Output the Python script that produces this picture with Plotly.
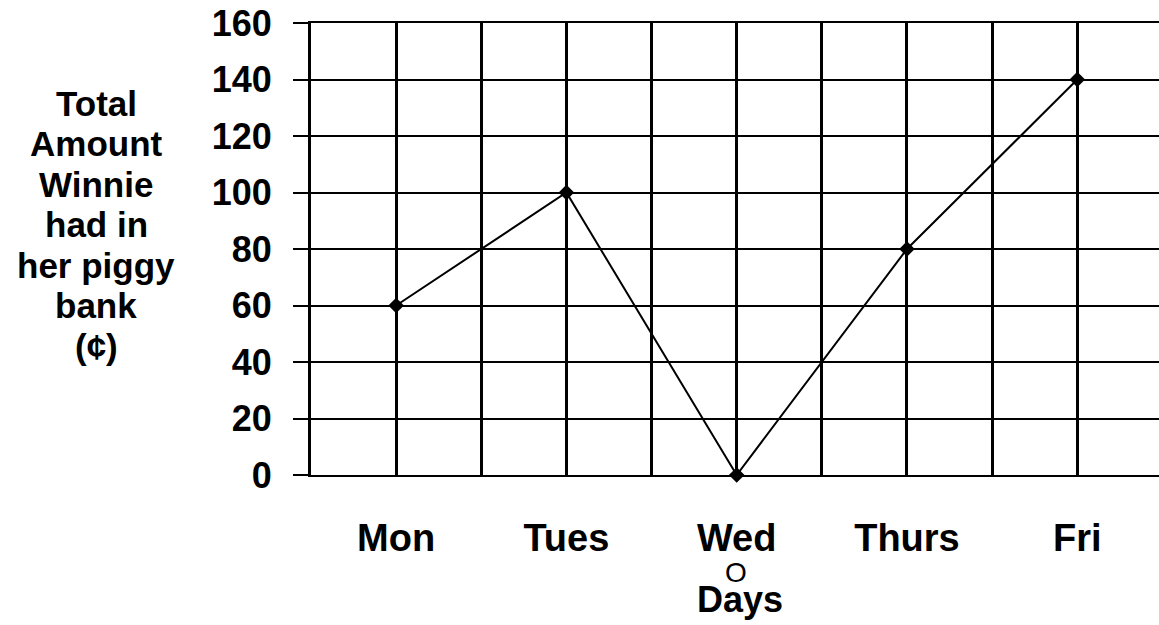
import plotly.graph_objects as go

days = ["Mon", "Tues", "Wed", "Thurs", "Fri"]
amounts = [60, 100, 0, 80, 140]
y_ticks = [0, 20, 40, 60, 80, 100, 120, 140, 160]
y_title_lines = ["Total", "Amount", "Winnie", "had in", "her piggy", "bank", "(¢)"]
x_title = "Days"
wed_mark = "O"

W, H = 1159, 625
L, R, T, B = 311, 0, 23, 150
FONT = "Liberation Sans, Arial, sans-serif"

x_pos = list(range(len(days)))

fig = go.Figure()
fig.add_trace(go.Scatter(
    x=x_pos, y=amounts, mode="lines+markers",
    line=dict(color="black", width=2),
    marker=dict(symbol="diamond", size=12, color="black"),
    cliponaxis=False, showlegend=False, hoverinfo="skip",
))

fig.update_layout(
    width=W, height=H,
    margin=dict(l=L, r=R, t=T, b=B, pad=0, autoexpand=False),
    paper_bgcolor="white", plot_bgcolor="white",
    font=dict(family=FONT, color="black"),
    hovermode=False,
    xaxis=dict(
        range=[-0.5, 4.48], automargin=False,
        tickmode="array", tickvals=x_pos, ticktext=days,
        tickfont=dict(size=38, weight="bold", family=FONT, color="black"),
        ticks="", ticklabelstandoff=28,
        showgrid=True, gridcolor="black", gridwidth=3,
        minor=dict(tickmode="linear", tick0=-0.5, dtick=1, showgrid=True,
                   gridcolor="black", gridwidth=3, ticks=""),
        showline=True, linecolor="black", linewidth=2, mirror=True,
        zeroline=False, fixedrange=True,
    ),
    yaxis=dict(
        range=[0, 160], automargin=False,
        tickmode="array", tickvals=y_ticks,
        tickfont=dict(size=36, weight="bold", family=FONT, color="black"),
        ticks="outside", ticklen=15, tickwidth=2, tickcolor="black",
        ticklabelstandoff=14,
        showgrid=True, gridcolor="black", gridwidth=2,
        showline=True, linecolor="black", linewidth=3, mirror=False,
        zeroline=False, fixedrange=True,
    ),
)

plot_w = W - L - R
plot_h = H - T - B

def px_to_paper_x(px):
    return (px - L) / plot_w

def px_to_paper_y(py):
    return (H - B - py) / plot_h

annotations = []
center0, step = 103, 40.5
for i, line in enumerate(y_title_lines):
    annotations.append(dict(
        text=line, xref="paper", yref="paper",
        x=px_to_paper_x(96), y=px_to_paper_y(center0 + i * step),
        xanchor="center", yanchor="middle", showarrow=False,
        font=dict(size=35, weight="bold", family=FONT, color="black"),
    ))

annotations.append(dict(
    text=wed_mark, xref="paper", yref="paper",
    x=px_to_paper_x(736), y=px_to_paper_y(572), xanchor="center", yanchor="middle",
    showarrow=False,
    font=dict(size=28, family=FONT, color="black"),
))
annotations.append(dict(
    text=x_title, xref="paper", yref="paper",
    x=px_to_paper_x(740), y=px_to_paper_y(599), xanchor="center", yanchor="middle",
    showarrow=False,
    font=dict(size=36, weight="bold", family=FONT, color="black"),
))
fig.update_layout(annotations=annotations)

fig.write_html(
    "out.html",
    config={"displayModeBar": False, "staticPlot": True},
    post_script="document.body.style.margin='0';document.body.style.overflow='hidden';",
)
